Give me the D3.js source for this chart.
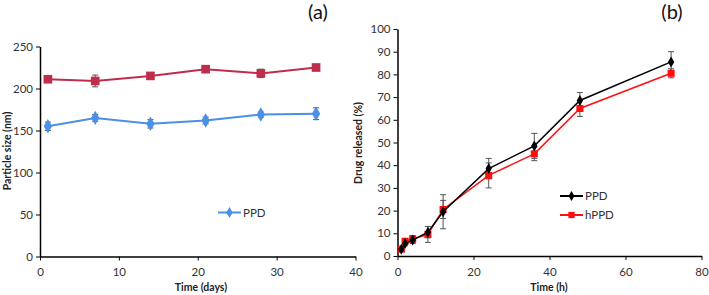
<!DOCTYPE html>
<html>
<head>
<meta charset="utf-8">
<script src="https://cdn.jsdelivr.net/npm/d3@7"></script>
<style>
  body { margin: 0; background: #fff; }
  text { font-family: Lato, "Open Sans", sans-serif; }
</style>
</head>
<body>
<div id="chart"></div>
<script>
// panel (a) : particle size over storage time
var daysA = [1, 7, 14, 21, 28, 35];
var redSize = [211, 209, 215, 223, 218, 225];
var redErr = [2, 7, 2, 2, 5, 2];
var ppdSize = [155, 165, 158, 162, 169, 170];
var ppdErr = [5, 4, 5, 4, 3, 7];
var ticksAx = [0, 10, 20, 30, 40];
var ticksAy = [0, 50, 100, 150, 200, 250];

// panel (b) : drug release
var timeB = [1, 2, 4, 8, 12, 24, 36, 48, 72];
var ppdRel = [3, 5.5, 7, 10.5, 19.5, 38.5, 48.5, 68.5, 85.5];
var ppdRelErr = [1, 1, 1.5, 2.5, 7.5, 4.5, 5.5, 3.5, 4.5];
var hppdRel = [3, 6.5, 7.5, 9.5, 20.5, 35.5, 45, 65, 80.5];
var hppdRelErr = [1, 1, 1.5, 3.5, 4, 5.5, 3, 3.5, 2];
var ticksBx = [0, 20, 40, 60, 80];
var ticksBy = [0, 10, 20, 30, 40, 50, 60, 70, 80, 90, 100];

var width = 709, height = 295;
var svg = d3.select("#chart").append("svg")
    .attr("width", width)
    .attr("height", height);

function drawAxes(g, x, y, xt, yt) {
  var xa = g.append("g").attr("transform", "translate(0," + y.range()[0] + ")")
      .call(d3.axisBottom(x).tickValues(xt).tickSize(4).tickSizeOuter(0));
  var ya = g.append("g").attr("transform", "translate(" + x.range()[0] + ",0)")
      .call(d3.axisLeft(y).tickValues(yt).tickSize(4).tickSizeOuter(0));
  [xa, ya].forEach(function(a) {
    a.select(".domain").attr("stroke", "#000").attr("stroke-width", 1.5);
    a.selectAll(".tick line").attr("stroke", "#000").attr("stroke-width", 1);
    a.selectAll(".tick text").attr("fill", "#333").style("font-size", "11.5px");
  });
  xa.selectAll(".tick text").attr("dy", "1.1em");
}

function errBars(g, xs, ys, es, x, y, color) {
  xs.forEach(function(d, i) {
    var cx = x(d), y1 = y(ys[i] - es[i]), y2 = y(ys[i] + es[i]);
    g.append("line").attr("x1", cx).attr("x2", cx).attr("y1", y1).attr("y2", y2)
      .attr("stroke", color).attr("stroke-width", 1);
    [y1, y2].forEach(function(yy) {
      g.append("line").attr("x1", cx - 3).attr("x2", cx + 3).attr("y1", yy).attr("y2", yy)
        .attr("stroke", color).attr("stroke-width", 1);
    });
  });
}

function series(g, xs, ys, x, y, color, symbol, size, lw) {
  var line = d3.line().x(function(d, i) { return x(xs[i]); }).y(function(d) { return y(d); });
  g.append("path").datum(ys).attr("d", line)
    .attr("fill", "none").attr("stroke", color).attr("stroke-width", lw);
  g.selectAll(null).data(ys).enter().append("path")
    .attr("transform", function(d, i) { return "translate(" + x(xs[i]) + "," + y(d) + ")"; })
    .attr("d", d3.symbol().type(symbol).size(size))
    .attr("fill", color);
}

function legendItem(g, lx, ly, color, symbol, size, label) {
  g.append("line").attr("x1", lx).attr("x2", lx + 23).attr("y1", ly).attr("y2", ly)
    .attr("stroke", color).attr("stroke-width", 2);
  g.append("path").attr("transform", "translate(" + (lx + 11.5) + "," + ly + ")")
    .attr("d", d3.symbol().type(symbol).size(size)).attr("fill", color);
  g.append("text").attr("x", lx + 25).attr("y", ly + 4).text(label)
    .attr("fill", "#333").style("font-size", "11.5px");
}

var diamond = d3.symbolDiamond;

// ---- panel (a)
var xa = d3.scaleLinear().domain([0, 40]).range([40, 355.5]);
var ya = d3.scaleLinear().domain([0, 250]).range([256.5, 46.5]);
var ga = svg.append("g");
drawAxes(ga, xa, ya, ticksAx, ticksAy);
errBars(ga, daysA, redSize, redErr, xa, ya, "#555");
errBars(ga, daysA, ppdSize, ppdErr, xa, ya, "#555");
series(ga, daysA, redSize, xa, ya, "#BE2D4B", d3.symbolSquare, 75, 2);
series(ga, daysA, ppdSize, xa, ya, "#4A8FE8", diamond, 60, 2);
legendItem(ga, 218, 212.5, "#4A8FE8", diamond, 35, "PPD");
ga.append("text").attr("x", 318).attr("y", 19).attr("text-anchor", "middle")
  .style("font-size", "20px").attr("fill", "#111").text("(a)");
ga.append("text").attr("transform", "translate(11,151) rotate(-90)")
  .attr("text-anchor", "middle").style("font-size", "10.5px").style("font-weight", "bold")
  .attr("fill", "#222").text("Particle size (nm)");
ga.append("text").attr("x", 201).attr("y", 291).attr("text-anchor", "middle")
  .style("font-size", "10.5px").style("font-weight", "bold").attr("fill", "#222").text("Time (days)");

// ---- panel (b)
var xb = d3.scaleLinear().domain([0, 80]).range([397.5, 701.5]);
var yb = d3.scaleLinear().domain([0, 100]).range([256, 29]);
var gb = svg.append("g");
drawAxes(gb, xb, yb, ticksBx, ticksBy);
errBars(gb, timeB, ppdRel, ppdRelErr, xb, yb, "#555");
errBars(gb, timeB, hppdRel, hppdRelErr, xb, yb, "#555");
series(gb, timeB, hppdRel, xb, yb, "#FF1010", d3.symbolSquare, 50, 1.5);
series(gb, timeB, ppdRel, xb, yb, "#000", diamond, 35, 1.5);
legendItem(gb, 560, 196, "#000", diamond, 30, "PPD");
legendItem(gb, 560, 215, "#FF1010", d3.symbolSquare, 40, "hPPD");
gb.append("text").attr("x", 672).attr("y", 19).attr("text-anchor", "middle")
  .style("font-size", "20px").attr("fill", "#111").text("(b)");
gb.append("text").attr("transform", "translate(362,143) rotate(-90)")
  .attr("text-anchor", "middle").style("font-size", "10.5px").style("font-weight", "bold")
  .attr("fill", "#222").text("Drug released (%)");
gb.append("text").attr("x", 549).attr("y", 291).attr("text-anchor", "middle")
  .style("font-size", "10.5px").style("font-weight", "bold").attr("fill", "#222").text("Time (h)");
</script>
</body>
</html>
